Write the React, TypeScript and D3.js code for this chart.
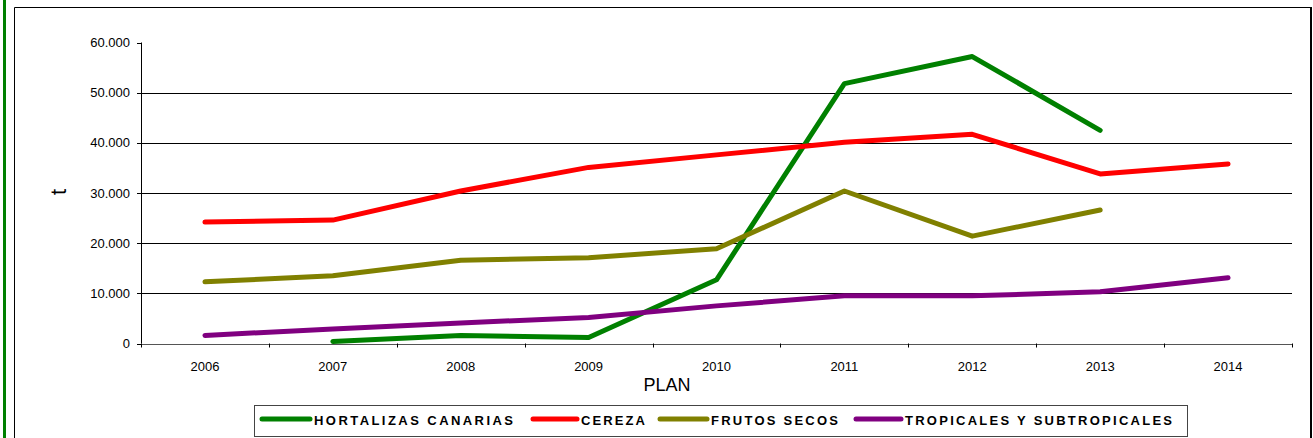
import React from "react";
import * as d3 from "d3";

const years = ["2006", "2007", "2008", "2009", "2010", "2011", "2012", "2013", "2014"];
const hortalizas: (number | null)[] = [null, 400, 1600, 1200, 12700, 51800, 57200, 42500, null];
const cereza: (number | null)[] = [24200, 24600, 30400, 35100, 37600, 40100, 41700, 33800, 35800];
const frutos: (number | null)[] = [12300, 13500, 16600, 17100, 18900, 30400, 21400, 26600, null];
const tropicales: (number | null)[] = [1600, 2900, 4100, 5200, 7500, 9500, 9500, 10300, 13100];
const yTicks = [0, 10000, 20000, 30000, 40000, 50000, 60000];

const seriesList = [
  { name: "HORTALIZAS CANARIAS", values: hortalizas, color: "#008000" },
  { name: "CEREZA", values: cereza, color: "#FF0000" },
  { name: "FRUTOS SECOS", values: frutos, color: "#808000" },
  { name: "TROPICALES Y SUBTROPICALES", values: tropicales, color: "#800080" },
];

const legendLayout = [
  { lx: 262, tx: 314, tw: 199 },
  { lx: 533, tx: 581, tw: 64 },
  { lx: 660, tx: 711, tw: 127 },
  { lx: 856, tx: 905, tw: 267 },
];

const fmt = (v: number) => (v === 0 ? "0" : d3.format(",")(v).replace(/,/g, "."));

export default function App() {
  const W = 1313, H = 438;
  const x = d3.scaleBand<string>().domain(years).range([141, 1292]).padding(0);
  const y = d3.scaleLinear().domain([0, 60000]).range([343.5, 42.5]);
  const cx = (yr: string) => (x(yr) as number) + x.bandwidth() / 2;

  const line = d3
    .line<number | null>()
    .defined((d) => d !== null)
    .x((_, i) => cx(years[i]))
    .y((d) => y(d as number));

  const font = "Arial, 'Liberation Sans', sans-serif";
  const x0 = 141, x1 = 1292;

  return (
    <svg width={W} height={H} style={{ position: "absolute", left: 0, top: 0, background: "#fff" }} fontFamily={font}>
      <rect x={0} y={0} width={W} height={H} fill="#fff" />
      {/* left green bar */}
      <rect x={3} y={0} width={3} height={H} fill="#008000" />
      {/* frame */}
      <line x1={14.5} y1={7.5} x2={1310.5} y2={7.5} stroke="#000" strokeWidth={1} />
      <line x1={14.5} y1={7.5} x2={14.5} y2={H} stroke="#000" strokeWidth={1} />
      <line x1={1311} y1={7} x2={1311} y2={H} stroke="#000" strokeWidth={2} />
      {/* gridlines */}
      {yTicks.filter((t) => t > 0 && t < 60000).map((t) => (
        <line key={t} x1={x0} x2={x1} y1={Math.round(y(t)) + 0.5} y2={Math.round(y(t)) + 0.5} stroke="#000" strokeWidth={1} />
      ))}
      {/* y axis */}
      <line x1={x0 + 0.5} x2={x0 + 0.5} y1={y(60000)} y2={y(0)} stroke="#000" />
      {yTicks.map((t) => (
        <g key={t}>
          <line x1={x0 - 4} x2={x0} y1={Math.round(y(t)) + 0.5} y2={Math.round(y(t)) + 0.5} stroke="#000" />
          <text x={130} y={y(t) + 4.5} textAnchor="end" fontSize={13} fill="#000">
            {fmt(t)}
          </text>
        </g>
      ))}
      {/* x axis */}
      <line x1={x0} x2={x1} y1={Math.round(y(0)) + 0.5} y2={Math.round(y(0)) + 0.5} stroke="#555" />
      {years.concat(["end"]).map((yr, i) => {
        const xx = i < years.length ? (x(yr) as number) : x1;
        return <line key={yr} x1={Math.round(xx) + 0.5} x2={Math.round(xx) + 0.5} y1={y(0)} y2={y(0) + 4} stroke="#000" />;
      })}
      {years.map((yr) => (
        <text key={yr} x={cx(yr)} y={371} textAnchor="middle" fontSize={13} fill="#000">
          {yr}
        </text>
      ))}
      <text x={667} y={391} textAnchor="middle" fontSize={18} fill="#000">PLAN</text>
      <text transform="translate(66,192) rotate(-90)" textAnchor="middle" fontSize={22} fill="#000">t</text>
      {/* series */}
      {seriesList.map((s) => (
        <path key={s.name} d={line(s.values) || ""} fill="none" stroke={s.color} strokeWidth={5} strokeLinecap="round" strokeLinejoin="round" />
      ))}
      {/* legend */}
      <rect x={254.5} y={405.5} width={933} height={31} fill="#fff" stroke="#444" strokeWidth={1} />
      {seriesList.map((s, i) => {
        const L = legendLayout[i];
        return (
          <g key={s.name}>
            <line x1={L.lx} x2={L.tx - 4} y1={419} y2={419} stroke={s.color} strokeWidth={5} strokeLinecap="round" />
            <text x={L.tx} y={424.5} fontSize={13} fontWeight="bold" fill="#000" textLength={L.tw} lengthAdjust="spacing">
              {s.name}
            </text>
          </g>
        );
      })}
    </svg>
  );
}
